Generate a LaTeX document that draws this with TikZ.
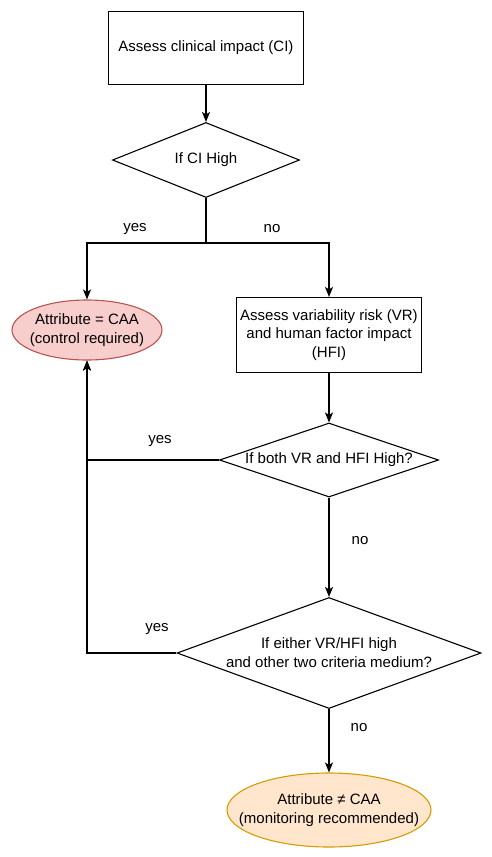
\documentclass[tikz,border=0pt]{standalone}
\usepackage{fontspec}
\setmainfont{Liberation Sans}
\usetikzlibrary{shapes.geometric,arrows.meta}
\definecolor{redfill}{HTML}{F8CECC}
\definecolor{redline}{HTML}{B85450}
\definecolor{orfill}{HTML}{FFE6CC}
\definecolor{orline}{HTML}{D79B00}
\begin{document}
\begin{tikzpicture}[x=1pt,y=-1pt,
  every node/.style={font=\fontsize{15}{18.8}\selectfont},
  procbox/.style={draw, line width=1.1pt, rectangle, align=center, inner sep=0pt},
  decision/.style={draw, line width=1.1pt, diamond, inner sep=0pt},
  endred/.style={draw=redline, fill=redfill, line width=1.1pt, ellipse, inner sep=0pt},
  endor/.style={draw=orline, fill=orfill, line width=1.1pt, ellipse, inner sep=0pt},
  conn/.style={line width=1.1pt},
  arr/.style={conn, -{Stealth[length=10pt,width=8pt,inset=2.5pt]}},
  lbl/.style={inner sep=0pt}
]
\useasboundingbox (0,0) rectangle (492,857);
\node[procbox, minimum width=195, minimum height=73] (box1) at (206,48) {Assess clinical impact (CI)};
\node[decision, minimum width=187, minimum height=75, label={center:If CI High}] (d1) at (206,160) {};
\coordinate (j1) at (206,243);
\node[endred, minimum width=150, minimum height=60, label={[align=center]center:Attribute = CAA\\(control required)}] (e1) at (87,330) {};
\node[procbox, minimum width=185, minimum height=75] (box2) at (329,335) {Assess variability risk (VR)\\and human factor impact\\(HFI)};
\node[decision, minimum width=219, minimum height=74, label={center:If both VR and HFI High?}] (d2) at (329,460) {};
\node[decision, minimum width=304, minimum height=111, label={[align=center]center:If either VR/HFI high\\and other two criteria medium?}] (d3) at (329,653) {};
\node[endor, minimum width=204, minimum height=74, label={[align=center]center:Attribute ≠ CAA\\(monitoring recommended)}] (e2) at (329,810) {};

\draw[arr] (box1) -- (d1);
\draw[conn] (d1.south) -- (j1);
\draw[arr] (j1) -| (e1.north);
\draw[arr] (j1) -| (box2.north);
\draw[arr] (box2) -- (d2);
\draw[arr] (d2.west) -| (e1.south);
\draw[arr] (d2) -- (d3);
\draw[arr] (d3.west) -| (e1.south);
\draw[arr] (d3) -- (e2);

\node[lbl] (l1) at (135,229) {yes};
\node[lbl] (l2) at (272,229) {no};
\node[lbl] (l3) at (160,441) {yes};
\node[lbl] (l4) at (360,541) {no};
\node[lbl] (l5) at (157,629) {yes};
\node[lbl] (l6) at (359,728) {no};
\end{tikzpicture}
\end{document}
